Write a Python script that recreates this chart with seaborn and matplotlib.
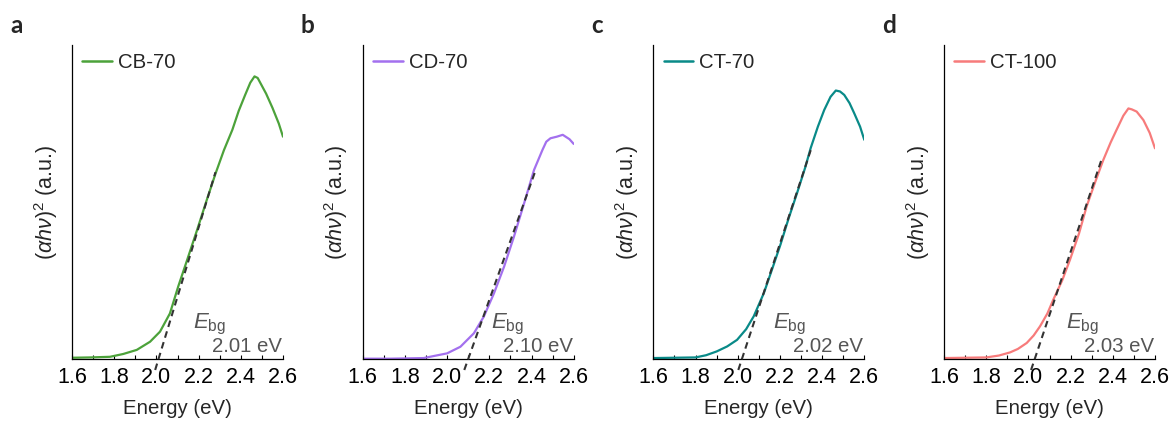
import numpy as np
import pandas as pd
import matplotlib
matplotlib.use("Agg")
import matplotlib.pyplot as plt
import seaborn as sns
from matplotlib.ticker import MultipleLocator

# ---------------- data ----------------
panel_letters = ["a", "b", "c", "d"]
sample_names = ["CB-70", "CD-70", "CT-70", "CT-100"]
bandgaps = [2.01, 2.10, 2.02, 2.03]          # eV, intercept of the Tauc fit
fit_top_x = [2.28, 2.42, 2.346, 2.347]       # upper end of the dashed fit line
fit_top_y = [0.595, 0.602, 0.665, 0.636]

energy_a = [1.60, 1.685, 1.78, 1.843, 1.907, 1.97, 2.017, 2.064, 2.104, 2.143, 2.19, 2.238, 2.28,
            2.32, 2.36, 2.39, 2.42, 2.445, 2.465, 2.48, 2.50, 2.52, 2.55, 2.58, 2.60]
tauc_a = [0.004, 0.005, 0.007, 0.016, 0.029, 0.055, 0.087, 0.145, 0.232, 0.31, 0.405, 0.505, 0.59,
          0.665, 0.73, 0.79, 0.84, 0.88, 0.90, 0.895, 0.87, 0.845, 0.80, 0.75, 0.708]

energy_b = [1.60, 1.73, 1.889, 2.00, 2.063, 2.127, 2.174, 2.222, 2.27, 2.317, 2.365, 2.412,
            2.452, 2.47, 2.49, 2.52, 2.548, 2.58, 2.60]
tauc_b = [0.001, 0.001, 0.003, 0.018, 0.039, 0.082, 0.135, 0.209, 0.294, 0.39, 0.496, 0.602,
          0.666, 0.692, 0.703, 0.708, 0.714, 0.70, 0.685]

energy_c = [1.60, 1.80, 1.85, 1.90, 1.95, 1.997, 2.04, 2.076, 2.124, 2.16, 2.203, 2.24, 2.283,
            2.32, 2.346, 2.38, 2.41, 2.44, 2.465, 2.485, 2.505, 2.53, 2.552, 2.58, 2.60]
tauc_c = [0.003, 0.005, 0.012, 0.024, 0.04, 0.061, 0.095, 0.136, 0.21, 0.28, 0.365, 0.445, 0.532,
          0.61, 0.672, 0.74, 0.793, 0.835, 0.855, 0.852, 0.841, 0.815, 0.783, 0.74, 0.698]

energy_d = [1.60, 1.80, 1.86, 1.913, 1.95, 1.992, 2.025, 2.055, 2.09, 2.118, 2.16, 2.197, 2.24,
            2.276, 2.32, 2.355, 2.39, 2.418, 2.45, 2.474, 2.49, 2.513, 2.545, 2.575, 2.60]
tauc_d = [0.003, 0.005, 0.011, 0.021, 0.032, 0.051, 0.075, 0.104, 0.145, 0.189, 0.25, 0.316, 0.40,
          0.486, 0.57, 0.634, 0.69, 0.73, 0.775, 0.798, 0.795, 0.788, 0.761, 0.72, 0.671]

energies = [energy_a, energy_b, energy_c, energy_d]
taucs = [tauc_a, tauc_b, tauc_c, tauc_d]

# ---------------- style / layout ----------------
colors = ["#4ca23a", "#a370ee", "#098a88", "#f77b7b"]
ebg_text_x = [2.173, 2.206, 2.168, 2.178]
axes_left_px = [72, 362.7, 653.3, 944]
W, H = 1172, 425

sns.set_theme(style="ticks")
plt.rcParams["font.family"] = ["Liberation Sans", "DejaVu Sans"]
plt.rcParams["mathtext.fontset"] = "custom"
plt.rcParams["mathtext.rm"] = "Liberation Sans"
plt.rcParams["mathtext.it"] = "Liberation Sans:italic"
plt.rcParams["mathtext.bf"] = "Liberation Sans:bold"

fig = plt.figure(figsize=(W / 100, H / 100), dpi=100)

for i in range(4):
    left = axes_left_px[i] / W
    ax = fig.add_axes([left, 1 - 359 / H, 211 / W, (359 - 45) / H])
    df = pd.DataFrame({"Energy": energies[i], "Tauc": taucs[i]})
    sns.lineplot(data=df, x="Energy", y="Tauc", ax=ax, color=colors[i], lw=1.6,
                 label=sample_names[i], sort=False)

    # dashed linear fit through the band-gap intercept
    slope = fit_top_y[i] / (fit_top_x[i] - bandgaps[i])
    y_low = -0.035
    x_low = bandgaps[i] + y_low / slope
    ax.plot([x_low, fit_top_x[i]], [y_low, fit_top_y[i]], ls=(0, (3.2, 2.2)), color="#333333",
            lw=1.5, clip_on=False, zorder=3)

    ax.set_xlim(1.6, 2.6)
    ax.set_ylim(0, 1)
    ax.xaxis.set_minor_locator(MultipleLocator(0.1))
    ax.set_xticks([1.6, 1.8, 2.0, 2.2, 2.4, 2.6])
    ax.set_xticklabels(["1.6", "1.8", "2.0", "2.2", "2.4", "2.6"])
    ax.set_yticks([])
    ax.tick_params(axis="x", which="major", direction="in", length=3.2, width=0.8,
                   labelsize=15.5, pad=6, colors="black")
    ax.tick_params(axis="x", which="minor", direction="in", length=3.0, width=0.8, colors="black")
    for s in ["top", "right"]:
        ax.spines[s].set_visible(False)
    for s in ["left", "bottom"]:
        ax.spines[s].set_linewidth(0.9)
        ax.spines[s].set_color("black")

    ax.set_xlabel("Energy (eV)", fontsize=14.7, labelpad=8)
    ax.set_ylabel(r"$(\mathit{\alpha h\nu})^{2}$ (a.u.)", fontsize=15.5, labelpad=9)

    ax.text(ebg_text_x[i], 0.097, r"$E_{\mathrm{bg}}$", fontsize=16, color="#555555",
            ha="left", va="baseline")
    ax.text(2.595, 0.022, f"{bandgaps[i]:.2f} eV", fontsize=14.7, color="#555555",
            ha="right", va="baseline")

    leg = ax.legend(loc="upper left", frameon=False, fontsize=14.7, handlelength=1.45,
                    handletextpad=0.3, borderaxespad=0.0, bbox_to_anchor=(0.01, 1.0))
    for line in leg.get_lines():
        line.set_linewidth(1.8)

    fig.text((axes_left_px[i] - 62) / W, 1 - 33 / H, panel_letters[i], fontsize=17.5,
             fontweight="bold", family=["Lato", "DejaVu Sans"], ha="left", va="baseline")

fig.savefig("out.png", dpi=100)
